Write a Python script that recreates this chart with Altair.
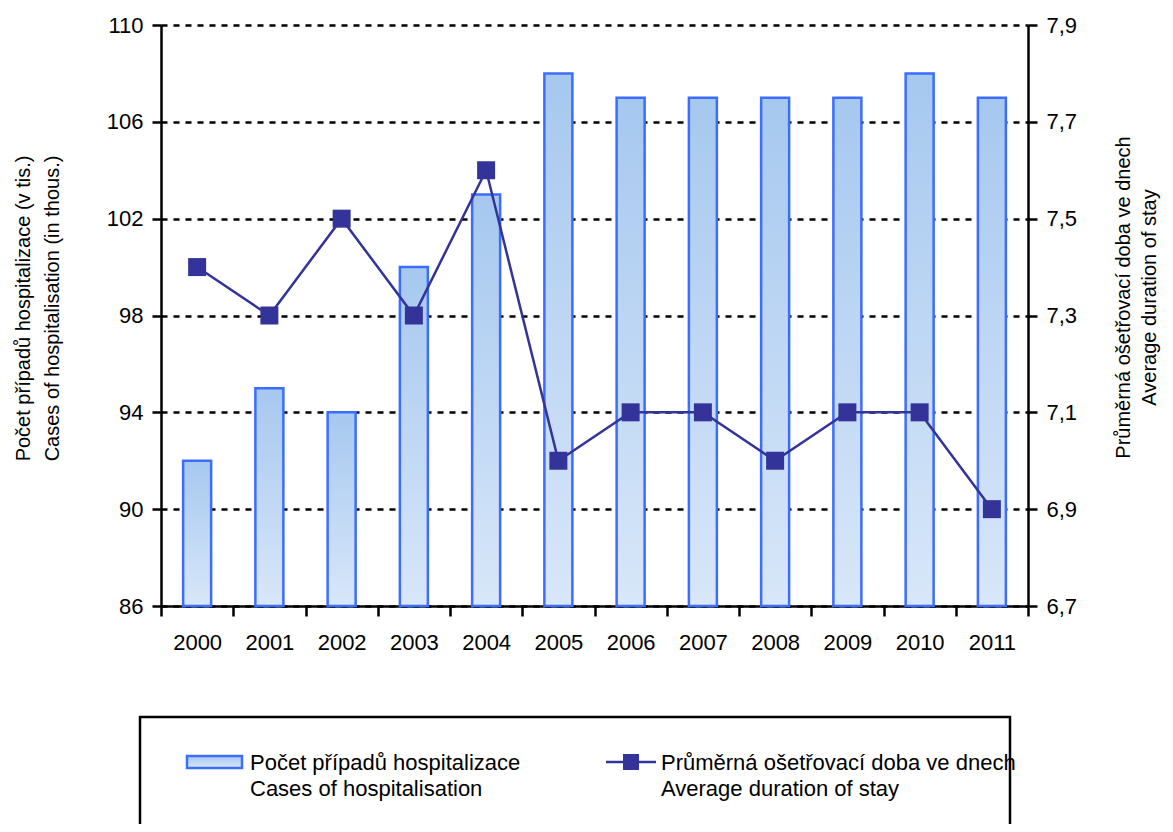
import altair as alt
import pandas as pd

years = ["2000", "2001", "2002", "2003", "2004", "2005", "2006", "2007", "2008", "2009", "2010", "2011"]
cases = [92, 95, 94, 100, 103, 108, 107, 107, 107, 107, 108, 107]
duration = [7.4, 7.3, 7.5, 7.3, 7.6, 7.0, 7.1, 7.1, 7.0, 7.1, 7.1, 6.9]
left_ticks = [86, 90, 94, 98, 102, 106, 110]
right_ticks = [6.7, 6.9, 7.1, 7.3, 7.5, 7.7, 7.9]
left_title = ["Počet případů hospitalizace (v tis.)", "Cases of hospitalisation (in thous.)"]
right_title = ["Průměrná ošetřovací doba ve dnech", "Average duration of stay"]
legend_bar = ["Počet případů hospitalizace", "Cases of hospitalisation"]
legend_line = ["Průměrná ošetřovací doba ve dnech", "Average duration of stay"]

df = pd.DataFrame({"year": years, "cases": cases, "duration": duration})
one = pd.DataFrame({"k": [0]})

FONT = "Liberation Sans"
W, H = 867, 581
BAR_STROKE = "#3d6dff"
LINE_COL = "#333399"

grad = alt.LinearGradient(
    gradient="linear",
    stops=[alt.GradientStop(color="#a6c8ef", offset=0), alt.GradientStop(color="#d8e7f9", offset=1)],
    x1=0, x2=0, y1=0, y2=1,
)

x_enc = alt.X(
    "year:N",
    sort=years,
    scale=alt.Scale(paddingInner=0, paddingOuter=0),
    axis=alt.Axis(
        title=None, labelAngle=0, labelFont=FONT, labelFontSize=22, labelColor="black",
        labelPadding=16, tickBand="extent", tickSize=10, tickWidth=2.5, tickColor="black",
        domainColor="black", domainWidth=2.5, grid=False,
    ),
)

bars = alt.Chart(df).mark_bar(size=28, fill=grad, stroke=BAR_STROKE, strokeWidth=2.5).encode(
    x=x_enc,
    y=alt.Y(
        "cases:Q",
        scale=alt.Scale(domain=[86, 110], nice=False, zero=False),
        axis=alt.Axis(
            values=left_ticks, orient="left", grid=True, gridDash=[6, 6], gridColor="black",
            gridWidth=2.5, gridOpacity=1, tickSize=9, tickWidth=2.5, tickColor="black",
            domainColor="black", domainWidth=2.5, labelFont=FONT, labelFontSize=22,
            labelColor="black", labelPadding=9, title=left_title, titleFont=FONT,
            titleFontSize=20, titleFontWeight="normal", titleColor="black", titleAngle=-90,
            titlePadding=44, titleLineHeight=29, titleY=283,
        ),
    ),
    y2=alt.datum(86),
)

line = alt.Chart(df).mark_line(
    color=LINE_COL, strokeWidth=2.5,
    point=alt.OverlayMarkDef(shape="square", size=324, filled=True, color=LINE_COL, opacity=1),
).encode(
    x=alt.X("year:N", sort=years),
    y=alt.Y(
        "duration:Q",
        scale=alt.Scale(domain=[6.7, 7.9], nice=False, zero=False),
        axis=alt.Axis(
            values=right_ticks, orient="right", grid=False, tickSize=9, tickWidth=2.5,
            tickColor="black", domainColor="black", domainWidth=2.5, labelFont=FONT,
            labelFontSize=22, labelColor="black", labelPadding=9,
            labelExpr="replace(format(datum.value, '.1f'), '.', ',')",
            title=right_title, titleFont=FONT, titleFontSize=20, titleFontWeight="normal",
            titleColor="black", titleAngle=-90, titlePadding=31, titleLineHeight=26,
            titleY=272,
        ),
    ),
)

box = alt.Chart(one).mark_rect(fill="transparent", stroke="black", strokeWidth=2.5).encode(
    x=alt.value(-21), x2=alt.value(849), y=alt.value(692), y2=alt.value(900)
)
sw_bar = alt.Chart(one).mark_rect(fill=grad, stroke=BAR_STROKE, strokeWidth=2.5).encode(
    x=alt.value(26), x2=alt.value(81), y=alt.value(731), y2=alt.value(743)
)
sw_line = alt.Chart(one).mark_rule(color=LINE_COL, strokeWidth=2.5).encode(
    x=alt.value(445), x2=alt.value(495), y=alt.value(737)
)
sw_sq = alt.Chart(one).mark_point(shape="square", filled=True, size=256, color=LINE_COL, opacity=1).encode(
    x=alt.value(470), y=alt.value(737)
)

def ltext(s, x, y):
    return alt.Chart(one).mark_text(
        align="left", baseline="middle", font=FONT, fontSize=22, color="black"
    ).encode(x=alt.value(x), y=alt.value(y), text=alt.value(s))

texts = [
    ltext(legend_bar[0], 89, 738), ltext(legend_bar[1], 89, 764),
    ltext(legend_line[0], 500, 738), ltext(legend_line[1], 500, 764),
]

chart = alt.layer(bars, line, box, sw_bar, sw_line, sw_sq, *texts).resolve_scale(
    y="independent"
).properties(
    width=W, height=H,
    padding={"left": 153, "top": 17, "right": 137, "bottom": 218},
    autosize=alt.AutoSizeParams(type="none"),
).configure_view(stroke=None)

chart.save("out.html", embed_options={"renderer": "svg", "actions": False})
